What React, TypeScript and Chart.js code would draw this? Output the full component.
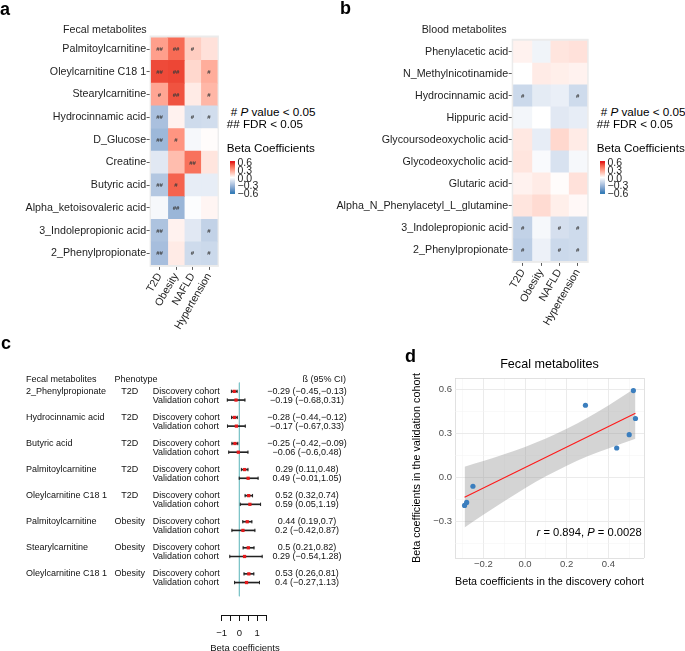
import React, { useEffect, useRef } from "react";
import { Chart, registerables } from "chart.js";

Chart.register(...registerables);

const FONT = '"Liberation Sans", Arial, Helvetica, sans-serif';
Chart.defaults.font.family = FONT;

// ---------------- data ----------------
const heatmapColumns = ["T2D", "Obesity", "NAFLD", "Hypertension"];

const fecalMetabolites = [
  "Palmitoylcarnitine",
  "Oleylcarnitine C18 1",
  "Stearylcarnitine",
  "Hydrocinnamic acid",
  "D_Glucose",
  "Creatine",
  "Butyric acid",
  "Alpha_ketoisovaleric acid",
  "3_Indolepropionic acid",
  "2_Phenylpropionate",
];
const fecalBeta = [
  [0.29, 0.44, 0.15, 0.09],
  [0.52, 0.53, 0.12, 0.25],
  [0.27, 0.5, 0.06, 0.22],
  [-0.28, 0.04, -0.16, -0.15],
  [-0.32, 0.32, -0.03, 0.01],
  [-0.1, 0.2, 0.42, 0.08],
  [-0.25, 0.46, -0.08, -0.08],
  [-0.03, -0.33, -0.01, 0.03],
  [-0.27, 0.04, -0.1, -0.2],
  [-0.29, 0.06, -0.16, -0.17],
];
const fecalSignificance = [
  ["##", "##", "#", ""],
  ["##", "##", "", "#"],
  ["#", "##", "", "#"],
  ["##", "", "#", "#"],
  ["##", "#", "", ""],
  ["", "", "##", ""],
  ["##", "#", "", ""],
  ["", "##", "", ""],
  ["##", "", "", "#"],
  ["##", "", "#", "#"],
];

const bloodMetabolites = [
  "Phenylacetic acid",
  "N_Methylnicotinamide",
  "Hydrocinnamic acid",
  "Hippuric acid",
  "Glycoursodeoxycholic acid",
  "Glycodeoxycholic acid",
  "Glutaric acid",
  "Alpha_N_Phenylacetyl_L_glutamine",
  "3_Indolepropionic acid",
  "2_Phenylpropionate",
];
const bloodBeta = [
  [0.04, -0.05, 0.08, 0.09],
  [0.0, 0.06, 0.05, 0.04],
  [-0.17, -0.09, -0.07, -0.16],
  [-0.04, 0.0, -0.1, -0.08],
  [0.07, -0.08, 0.12, 0.06],
  [0.08, -0.02, -0.13, -0.03],
  [0.04, 0.06, 0.01, 0.09],
  [0.08, 0.11, 0.05, 0.02],
  [-0.2, -0.03, -0.14, -0.16],
  [-0.22, -0.06, -0.17, -0.16],
];
const bloodSignificance = [
  ["", "", "", ""],
  ["", "", "", ""],
  ["#", "", "", "#"],
  ["", "", "", ""],
  ["", "", "", ""],
  ["", "", "", ""],
  ["", "", "", ""],
  ["", "", "", ""],
  ["#", "", "#", "#"],
  ["#", "", "#", "#"],
];

const colorbarTicks = [0.6, 0.3, 0, -0.3, -0.6];
const colorbarTickLabels = ["0.6", "0.3", "0.0", "−0.3", "−0.6"];

const forestMetabolites = [
  "2_Phenylpropionate",
  "Hydrocinnamic acid",
  "Butyric acid",
  "Palmitoylcarnitine",
  "Oleylcarnitine C18 1",
  "Palmitoylcarnitine",
  "Stearylcarnitine",
  "Oleylcarnitine C18 1",
];
const forestPhenotypes = ["T2D", "T2D", "T2D", "T2D", "T2D", "Obesity", "Obesity", "Obesity"];
const discoveryBeta = [-0.29, -0.28, -0.25, 0.29, 0.52, 0.44, 0.5, 0.53];
const discoveryLow = [-0.45, -0.44, -0.42, 0.11, 0.32, 0.19, 0.21, 0.26];
const discoveryHigh = [-0.13, -0.12, -0.09, 0.48, 0.74, 0.7, 0.82, 0.81];
const validationBeta = [-0.19, -0.17, -0.06, 0.49, 0.59, 0.2, 0.29, 0.4];
const validationLow = [-0.68, -0.67, -0.6, -0.01, 0.05, -0.42, -0.54, -0.27];
const validationHigh = [0.31, 0.33, 0.48, 1.05, 1.19, 0.87, 1.28, 1.13];
const forestTicks = [-1, -0.5, 0, 0.5, 1, 1.5];
const forestTickLabels = ["−1", "", "0", "", "1", ""];

const smoothX = [-0.29, -0.2, -0.1, 0, 0.1, 0.2, 0.3, 0.4, 0.53];
const smoothUpper = [0.073, 0.111, 0.157, 0.207, 0.264, 0.33, 0.405, 0.489, 0.607];
const smoothLower = [-0.34, -0.253, -0.161, -0.073, 0.008, 0.08, 0.143, 0.197, 0.263];
const fitX = [-0.29, 0.53];
const fitY = [-0.135, 0.435];
const scatterGridX = [-0.3, -0.2, -0.1, 0, 0.1, 0.2, 0.3, 0.4, 0.5];
const scatterXTicks = [-0.2, 0, 0.2, 0.4];
const scatterXTickLabels = ["−0.2", "0.0", "0.2", "0.4"];
const scatterGridY = [-0.45, -0.3, -0.15, 0, 0.15, 0.3, 0.45, 0.6];
const scatterYTicks = [-0.3, 0, 0.3, 0.6];
const scatterYTickLabels = ["−0.3", "0.0", "0.3", "0.6"];

// ---------------- colour scale (Lab interpolation like ggplot) ----------------
function hexToRgb(hex: string): number[] {
  const n = parseInt(hex.slice(1), 16);
  return [(n >> 16) & 255, (n >> 8) & 255, n & 255];
}
function rgbToLab(rgb: number[]): number[] {
  const [r, g, b] = rgb.map((c) => {
    const s = c / 255;
    return s <= 0.04045 ? s / 12.92 : Math.pow((s + 0.055) / 1.055, 2.4);
  });
  const X = (0.4124 * r + 0.3576 * g + 0.1805 * b) / 0.95047;
  const Y = 0.2126 * r + 0.7152 * g + 0.0722 * b;
  const Z = (0.0193 * r + 0.1192 * g + 0.9505 * b) / 1.08883;
  const f = (t: number) => (t > 0.008856 ? Math.cbrt(t) : 7.787 * t + 16 / 116);
  const fx = f(X), fy = f(Y), fz = f(Z);
  return [116 * fy - 16, 500 * (fx - fy), 200 * (fy - fz)];
}
function labToHex(lab: number[]): string {
  const [L, a, b] = lab;
  const fy = (L + 16) / 116, fx = fy + a / 500, fz = fy - b / 200;
  const inv = (t: number) => (t * t * t > 0.008856 ? t * t * t : (t - 16 / 116) / 7.787);
  const X = inv(fx) * 0.95047, Y = inv(fy), Z = inv(fz) * 1.08883;
  const r = 3.2406 * X - 1.5372 * Y - 0.4986 * Z;
  const g = -0.9689 * X + 1.8758 * Y + 0.0415 * Z;
  const bl = 0.0557 * X - 0.204 * Y + 1.057 * Z;
  const gam = (c: number) => {
    const v = c <= 0.0031308 ? 12.92 * c : 1.055 * Math.pow(c, 1 / 2.4) - 0.055;
    return Math.round(Math.min(1, Math.max(0, v)) * 255);
  };
  return "#" + [r, g, bl].map((c) => gam(c).toString(16).padStart(2, "0")).join("");
}
const LOW_LAB = rgbToLab(hexToRgb("#377EB8"));
const MID_LAB = rgbToLab(hexToRgb("#FFFFFF"));
const HIGH_LAB = rgbToLab(hexToRgb("#E41A1C"));
function betaColor(v: number): string {
  const t = Math.max(-1, Math.min(1, v / 0.6));
  const end = t >= 0 ? HIGH_LAB : LOW_LAB;
  const k = Math.abs(t);
  return labToHex(MID_LAB.map((m, i) => m + (end[i] - m) * k));
}

// ---------------- plugins ----------------
const panelBackground = {
  id: "panelBackground",
  beforeDatasetsDraw(chart: any) {
    const { ctx, chartArea: a } = chart;
    ctx.save();
    ctx.fillStyle = "#EBEBEB";
    ctx.fillRect(a.left, a.top, a.right - a.left, a.bottom - a.top);
    ctx.restore();
  },
};

function significancePlugin(sig: string[][]) {
  return {
    id: "significance",
    afterDatasetsDraw(chart: any) {
      const ctx = chart.ctx;
      ctx.save();
      ctx.font = `bold 6px ${FONT}`;
      ctx.fillStyle = "#3A3A3A";
      ctx.textAlign = "center";
      ctx.textBaseline = "middle";
      chart.data.datasets.forEach((_: any, c: number) => {
        const meta = chart.getDatasetMeta(c);
        meta.data.forEach((el: any, r: number) => {
          const s = sig[r][c];
          if (!s) return;
          const p = el.getCenterPoint();
          ctx.fillText(s, p.x, p.y + 0.5);
        });
      });
      ctx.restore();
    },
  };
}

// ---------------- builders ----------------
type HeatLayout = {
  canvasLeft: number;
  canvasW: number;
  canvasH: number;
  left: number;
  right: number;
  top: number;
  bottom: number;
  labelPad: number;
};
const HEAT_A: HeatLayout = { canvasLeft: 0, canvasW: 230, canvasH: 335, left: 149.6, right: 218.9, top: 35.5, bottom: 266.9, labelPad: 0.5 };
const HEAT_B: HeatLayout = { canvasLeft: 330, canvasW: 270, canvasH: 335, left: 511.7, right: 588.7, top: 38.8, bottom: 262.9, labelPad: 0.5 };
const HEAT_XAXIS_H = 66;

function buildHeatmap(canvas: HTMLCanvasElement, rows: string[], values: number[][], sig: string[][], L: HeatLayout) {
  const datasets = heatmapColumns.map((col, c) => ({
    label: col,
    data: rows.map((_, r) => ({ y: r + 0.5, x: [c, c + 1] })),
    backgroundColor: rows.map((_, r) => betaColor(values[r][c])),
    borderWidth: 0,
    barPercentage: 1,
    categoryPercentage: 1,
    grouped: false,
  }));
  return new Chart(canvas, {
    type: "bar",
    data: { datasets } as any,
    options: {
      indexAxis: "y",
      animation: false,
      responsive: false,
      maintainAspectRatio: false,
      devicePixelRatio: 1,
      layout: {
        padding: {
          left: 0,
          top: L.top,
          right: L.canvasW - (L.right - L.canvasLeft),
          bottom: L.canvasH - L.bottom - HEAT_XAXIS_H,
        },
      },
      plugins: { legend: { display: false }, tooltip: { enabled: false }, title: { display: false } },
      scales: {
        y: {
          type: "linear",
          reverse: true,
          min: -0.1,
          max: rows.length + 0.1,
          offset: false,
          afterBuildTicks: (s: any) => {
            s.ticks = rows.map((_, i) => ({ value: i + 0.5 }));
          },
          afterFit: (s: any) => {
            s.width = L.left - L.canvasLeft;
          },
          ticks: {
            autoSkip: false,
            callback: (_v: any, i: number) => rows[i],
            font: { family: FONT, size: 10.7 },
            color: "#1E1E1E",
            padding: L.labelPad,
          },
          grid: { drawOnChartArea: false, drawTicks: true, tickLength: 3, color: "#333", lineWidth: 0.8, offset: false },
          border: { display: false },
        },
        x: {
          type: "linear",
          min: -0.1,
          max: heatmapColumns.length + 0.1,
          offset: false,
          afterBuildTicks: (s: any) => {
            s.ticks = heatmapColumns.map((_, i) => ({ value: i + 0.5 }));
          },
          afterFit: (s: any) => {
            s.height = HEAT_XAXIS_H;
          },
          ticks: {
            autoSkip: false,
            minRotation: 60,
            maxRotation: 60,
            callback: (_v: any, i: number) => heatmapColumns[i],
            font: { family: FONT, size: 10.7 },
            color: "#1E1E1E",
            padding: 1,
          },
          grid: { drawOnChartArea: false, drawTicks: true, tickLength: 3, color: "#333", lineWidth: 0.8, offset: false },
          border: { display: false },
        },
      },
    } as any,
    plugins: [panelBackground, significancePlugin(sig)],
  });
}

// forest layout (page coordinates)
const FOREST = { canvasW: 400, canvasH: 321, canvasTop: 330, left: 221.6, right: 266.1, top: 351.7, axisH: 36 };
const FOREST_YMIN = -2.4;
const FOREST_YMAX = 23.57;
const FOREST_HEADER = -1.4;
const fmtNum = (v: number) => String(v).replace("-", "−");
const ciText = (b: number, lo: number, hi: number) => `${fmtNum(b)} (${fmtNum(lo)},${fmtNum(hi)})`;

const forestTable = {
  id: "forestTable",
  afterDraw(chart: any) {
    const { ctx } = chart;
    const y = chart.scales.y;
    ctx.save();
    ctx.font = `9px ${FONT}`;
    ctx.fillStyle = "#111";
    ctx.textBaseline = "middle";
    const put = (t: string, x: number, yy: number, align: CanvasTextAlign) => {
      ctx.textAlign = align;
      ctx.fillText(t, x, yy);
    };
    const hy = y.getPixelForValue(FOREST_HEADER);
    put("Fecal metabolites", 26, hy, "left");
    put("Phenotype", 114.5, hy, "left");
    put("ß (95% CI)", 346, hy, "right");
    forestMetabolites.forEach((m, g) => {
      const yd = y.getPixelForValue(g * 3);
      const yv = y.getPixelForValue(g * 3 + 1);
      put(m, 26, yd, "left");
      put(forestPhenotypes[g], 129.7, yd, "center");
      put("Discovery cohort", 152.7, yd, "left");
      put("Validation cohort", 152.7, yv, "left");
      put(ciText(discoveryBeta[g], discoveryLow[g], discoveryHigh[g]), 307, yd, "center");
      put(ciText(validationBeta[g], validationLow[g], validationHigh[g]), 307, yv, "center");
    });
    ctx.restore();
  },
};

function buildForest(canvas: HTMLCanvasElement) {
  const dRow = (g: number) => g * 3;
  const vRow = (g: number) => g * 3 + 1;
  const caps = [
    ...discoveryLow.map((x, g) => ({ x, y: dRow(g) })),
    ...discoveryHigh.map((x, g) => ({ x, y: dRow(g) })),
    ...validationLow.map((x, g) => ({ x, y: vRow(g) })),
    ...validationHigh.map((x, g) => ({ x, y: vRow(g) })),
  ];
  const bars = [
    ...discoveryLow.map((lo, g) => ({ y: dRow(g), x: [lo, discoveryHigh[g]] })),
    ...validationLow.map((lo, g) => ({ y: vRow(g), x: [lo, validationHigh[g]] })),
  ];
  return new Chart(canvas, {
    type: "scatter",
    data: {
      datasets: [
        {
          data: discoveryBeta.map((x, g) => ({ x, y: dRow(g) })),
          pointStyle: "rect",
          pointRadius: 2.3,
          pointBackgroundColor: "#E41A1C",
          pointBorderWidth: 0,
          clip: false,
        },
        {
          data: validationBeta.map((x, g) => ({ x, y: vRow(g) })),
          pointStyle: "rect",
          pointRadius: 2.3,
          pointBackgroundColor: "#E41A1C",
          pointBorderWidth: 0,
          clip: false,
        },
        {
          data: caps,
          pointStyle: "line",
          pointRotation: 90,
          pointRadius: 1.7,
          pointBorderColor: "#222",
          pointBorderWidth: 1,
          clip: false,
        },
        {
          type: "bar",
          indexAxis: "y",
          data: bars,
          backgroundColor: "#222",
          barThickness: 1,
          grouped: false,
          clip: false,
        },
        {
          type: "line",
          data: [
            { x: 0, y: -1.0 },
            { x: 0, y: FOREST_YMAX },
          ],
          borderColor: "#7FC4C9",
          borderWidth: 1,
          pointRadius: 0,
          clip: false,
        },
      ],
    } as any,
    options: {
      animation: false,
      responsive: false,
      maintainAspectRatio: false,
      devicePixelRatio: 1,
      layout: {
        padding: {
          left: FOREST.left,
          right: FOREST.canvasW - FOREST.right,
          top: FOREST.top - FOREST.canvasTop,
          bottom: FOREST.canvasH - (FOREST.top - FOREST.canvasTop) - (615 - FOREST.top) - FOREST.axisH,
        },
      },
      plugins: { legend: { display: false }, tooltip: { enabled: false } },
      scales: {
        x: {
          type: "linear",
          min: -1,
          max: 1.5,
          afterBuildTicks: (s: any) => {
            s.ticks = forestTicks.map((v) => ({ value: v }));
          },
          afterFit: (s: any) => {
            s.height = FOREST.axisH;
          },
          ticks: {
            autoSkip: false,
            maxRotation: 0,
            callback: (_v: any, i: number) => forestTickLabels[i],
            font: { family: FONT, size: 9.5 },
            color: "#111",
            padding: 6.3,
          },
          grid: { drawOnChartArea: false, drawTicks: true, tickLength: 6, color: "#111", lineWidth: 1 },
          border: { display: true, color: "#111", width: 1 },
        },
        y: { type: "linear", reverse: true, min: FOREST_YMIN, max: FOREST_YMAX, display: false },
      },
    } as any,
    plugins: [forestTable],
  });
}

const SCATTER_XMIN = -0.336;
const SCATTER_XMAX = 0.571;
const SCATTER_YMIN = -0.547;
const SCATTER_YMAX = 0.675;
const near = (a: number, b: number) => Math.abs(a - b) < 1e-6;
const labelFor = (v: number, vals: number[], labels: string[]) => {
  const i = vals.findIndex((x) => near(x, v));
  return i >= 0 ? labels[i] : "";
};
const gridColorFor = (v: number, lo: number, hi: number, majors: number[]) =>
  near(v, lo) || near(v, hi) ? "#D9D9D9" : majors.some((m) => near(m, v)) ? "#E9E9E9" : "#F2F2F2";
const gridWidthFor = (v: number, lo: number, hi: number, majors: number[]) =>
  near(v, lo) || near(v, hi) ? 0.8 : majors.some((m) => near(m, v)) ? 0.9 : 0.5;

function buildScatter(canvas: HTMLCanvasElement) {
  return new Chart(canvas, {
    type: "scatter",
    data: {
      datasets: [
        {
          data: discoveryBeta.map((x, i) => ({ x, y: validationBeta[i] })),
          pointRadius: 2.6,
          pointBackgroundColor: "#3B7EBE",
          pointBorderWidth: 0,
        },
        {
          type: "line",
          data: fitX.map((x, i) => ({ x, y: fitY[i] })),
          borderColor: "#FF1A1A",
          borderWidth: 1.1,
          pointRadius: 0,
        },
        {
          type: "line",
          data: smoothX.map((x, i) => ({ x, y: smoothUpper[i] })),
          borderColor: "rgba(0,0,0,0)",
          borderWidth: 1,
          pointRadius: 0,
          fill: "+1",
          backgroundColor: "rgba(153,153,153,0.42)",
          cubicInterpolationMode: "monotone",
        },
        {
          type: "line",
          data: smoothX.map((x, i) => ({ x, y: smoothLower[i] })),
          borderColor: "rgba(0,0,0,0)",
          borderWidth: 1,
          pointRadius: 0,
          fill: false,
          cubicInterpolationMode: "monotone",
        },
      ],
    } as any,
    options: {
      animation: false,
      responsive: false,
      maintainAspectRatio: false,
      devicePixelRatio: 1,
      layout: { padding: { left: 11, right: 41, top: 0, bottom: 11.5 } },
      plugins: {
        legend: { display: false },
        tooltip: { enabled: false },
        title: {
          display: true,
          text: "Fecal metabolites",
          fullSize: false,
          color: "#000",
          font: { family: FONT, size: 12.6, weight: "normal" },
          padding: { top: 27.4, bottom: 5.5 },
        },
      },
      scales: {
        x: {
          type: "linear",
          min: SCATTER_XMIN,
          max: SCATTER_XMAX,
          afterBuildTicks: (s: any) => {
            s.ticks = [SCATTER_XMIN, ...scatterGridX, SCATTER_XMAX].map((v) => ({ value: v }));
          },
          afterFit: (s: any) => {
            s.height = 30.5;
          },
          ticks: {
            autoSkip: false,
            maxRotation: 0,
            callback: (v: any) => labelFor(Number(v), scatterXTicks, scatterXTickLabels),
            font: { family: FONT, size: 9.5 },
            color: "#4D4D4D",
            padding: 0.3,
          },
          grid: {
            drawTicks: false,
            color: (c: any) => gridColorFor(c.tick.value, SCATTER_XMIN, SCATTER_XMAX, scatterXTicks),
            lineWidth: (c: any) => gridWidthFor(c.tick.value, SCATTER_XMIN, SCATTER_XMAX, scatterXTicks),
          },
          border: { display: false },
          title: {
            display: true,
            text: "Beta coefficients in the discovery cohort",
            color: "#000",
            font: { family: FONT, size: 10.8 },
            padding: { top: 0, bottom: 0 },
          },
        },
        y: {
          type: "linear",
          min: SCATTER_YMIN,
          max: SCATTER_YMAX,
          afterBuildTicks: (s: any) => {
            s.ticks = [SCATTER_YMIN, ...scatterGridY, SCATTER_YMAX].map((v) => ({ value: v }));
          },
          afterFit: (s: any) => {
            s.width = 44;
          },
          ticks: {
            autoSkip: false,
            callback: (v: any) => labelFor(Number(v), scatterYTicks, scatterYTickLabels),
            font: { family: FONT, size: 9.5 },
            color: "#4D4D4D",
            padding: 3,
          },
          grid: {
            drawTicks: false,
            color: (c: any) => gridColorFor(c.tick.value, SCATTER_YMIN, SCATTER_YMAX, scatterYTicks),
            lineWidth: (c: any) => gridWidthFor(c.tick.value, SCATTER_YMIN, SCATTER_YMAX, scatterYTicks),
          },
          border: { display: false },
          title: {
            display: true,
            text: "Beta coefficients in the validation cohort",
            color: "#000",
            font: { family: FONT, size: 10.8 },
            padding: { top: 0, bottom: 0 },
          },
        },
      },
    } as any,
  });
}

// ---------------- HTML text helpers ----------------
function Txt(props: {
  x: number;
  y: number;
  size: number;
  align?: "left" | "right" | "center";
  weight?: number | string;
  color?: string;
  children: React.ReactNode;
}) {
  const { x, y, size, align = "left", weight = 400, color = "#000", children } = props;
  const tx = align === "left" ? "0" : align === "right" ? "-100%" : "-50%";
  return (
    <div
      style={{
        position: "absolute",
        left: x,
        top: y,
        fontSize: size,
        lineHeight: 1,
        whiteSpace: "nowrap",
        transform: `translate(${tx}, -50%)`,
        fontWeight: weight as any,
        color,
      }}
    >
      {children}
    </div>
  );
}

const CB_TOP = 161;
const CB_PX_PER_UNIT = 25.67;
const CB_CENTER = 177.7;
const CB_HALF = 0.65;

function Legend(props: { left: number }) {
  const { left } = props;
  const stops: string[] = [];
  for (let k = 0; k <= 26; k++) {
    const v = CB_HALF - (k / 26) * 2 * CB_HALF;
    stops.push(`${betaColor(v)} ${((k / 26) * 100).toFixed(2)}%`);
  }
  return (
    <>
      <Txt x={left + 0.7} y={111.5} size={11.7}>
        # <i>P</i> value &lt; 0.05
      </Txt>
      <Txt x={left - 3.3} y={123.5} size={11.7}>
        ## FDR &lt; 0.05
      </Txt>
      <Txt x={left - 3.3} y={148} size={11.7}>
        Beta Coefficients
      </Txt>
      <div
        style={{
          position: "absolute",
          left: left,
          top: CB_TOP,
          width: 5,
          height: 2 * CB_HALF * CB_PX_PER_UNIT,
          background: `linear-gradient(to bottom, ${stops.join(", ")})`,
        }}
      />
      {colorbarTicks.map((v, i) => (
        <Txt key={i} x={left + 7.5} y={CB_CENTER - v * CB_PX_PER_UNIT} size={10.5} color="#1E1E1E">
          {colorbarTickLabels[i]}
        </Txt>
      ))}
    </>
  );
}

export default function App() {
  const aRef = useRef<HTMLCanvasElement>(null);
  const bRef = useRef<HTMLCanvasElement>(null);
  const cRef = useRef<HTMLCanvasElement>(null);
  const dRef = useRef<HTMLCanvasElement>(null);

  useEffect(() => {
    const charts = [
      buildHeatmap(aRef.current!, fecalMetabolites, fecalBeta, fecalSignificance, HEAT_A),
      buildHeatmap(bRef.current!, bloodMetabolites, bloodBeta, bloodSignificance, HEAT_B),
      buildForest(cRef.current!),
      buildScatter(dRef.current!),
    ];
    return () => charts.forEach((c) => c.destroy());
  }, []);

  const cv = (left: number, top: number, w: number, h: number): React.CSSProperties => ({
    position: "absolute",
    left,
    top,
    width: w,
    height: h,
  });

  return (
    <div
      style={{
        position: "fixed",
        left: 0,
        top: 0,
        width: 685,
        height: 651,
        overflow: "hidden",
        background: "#fff",
        fontFamily: FONT,
        color: "#000",
      }}
    >
      <canvas ref={aRef} width={230} height={335} style={cv(0, 0, 230, 335)} />
      <canvas ref={bRef} width={270} height={335} style={cv(330, 0, 270, 335)} />
      <canvas ref={cRef} width={400} height={321} style={cv(0, 330, 400, 321)} />
      <canvas ref={dRef} width={285} height={270} style={cv(400, 330, 285, 270)} />

      <Txt x={0} y={9} size={18} weight={700}>a</Txt>
      <Txt x={340} y={8} size={18} weight={700}>b</Txt>
      <Txt x={1} y={343} size={18} weight={700}>c</Txt>
      <Txt x={405} y={356} size={18} weight={700}>d</Txt>

      <Txt x={146.7} y={29} size={10.7} align="right" color="#1E1E1E">Fecal metabolites</Txt>
      <Txt x={506.7} y={29} size={10.7} align="right" color="#1E1E1E">Blood metabolites</Txt>

      <Legend left={230} />
      <Legend left={600} />

      <Txt x={245} y={648} size={9.5} align="center" color="#111">Beta coefficients</Txt>

      <Txt x={641.7} y={533} size={11.2} align="right">
        <i>r</i> = 0.894, <i>P</i> = 0.0028
      </Txt>
    </div>
  );
}
